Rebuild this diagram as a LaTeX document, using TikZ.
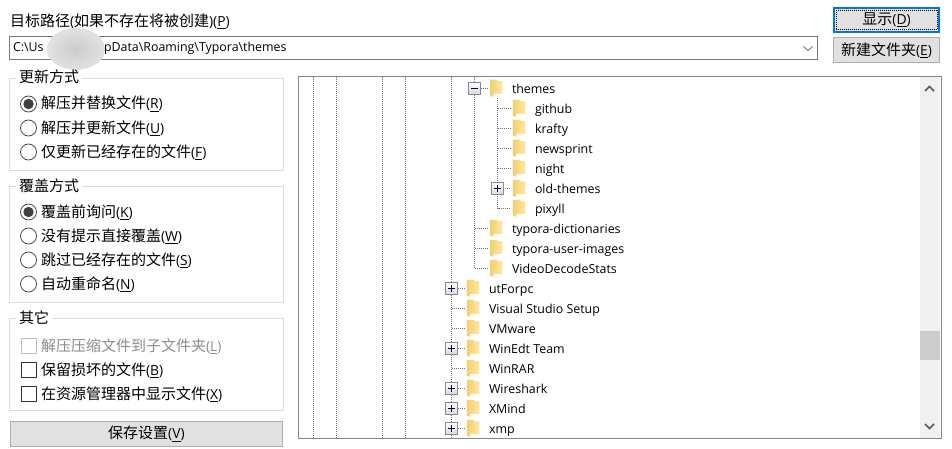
\documentclass[tikz,border=0pt]{standalone}
\usepackage{fontspec}
\setmainfont{Open Sans}
\newfontfamily\cjk{Noto Sans CJK SC}
\usetikzlibrary{calc}
\definecolor{grp}{HTML}{DCDCDC}
\definecolor{edge}{HTML}{7A7A7A}
\definecolor{treeedge}{HTML}{828790}
\definecolor{btn}{HTML}{E1E1E1}
\definecolor{btnb}{HTML}{ADADAD}
\definecolor{bar}{HTML}{F0F0F0}
\definecolor{thumb}{HTML}{CDCDCD}
\definecolor{focus}{HTML}{0078D7}
\definecolor{fa}{HTML}{F5CF6C}
\definecolor{fb}{HTML}{FDE8A6}
\definecolor{dis}{HTML}{8C8C8C}
\definecolor{blur}{HTML}{CCCCCC}
\definecolor{blurb}{HTML}{E2E2E2}
\newcommand{\sk}[1]{{\fontsize{10.4pt}{11pt}\selectfont(\underline{\smash{#1}})}}
\newcommand{\zh}[1]{{\cjk #1}}
\tikzset{
  x=0.75pt,y=-0.75pt,
  every node/.style={outer sep=0pt},
  ctext/.style={inner sep=0pt,anchor=base west,font=\fontsize{11.25pt}{13pt}\selectfont,text=black},
  treelab/.style={inner sep=0pt,anchor=base west,font=\fontsize{9.3pt}{11pt}\selectfont,text=black},
  groupbox/.style={draw=grp,line width=0.75pt,fill=white,inner sep=0pt,anchor=north west},
  radiobox/.style={circle,draw=black!70,line width=0.6pt,minimum size=12pt,inner sep=0pt},
  checkbox/.style={rectangle,draw=black!80,line width=0.6pt,minimum size=11.4pt,inner sep=0pt},
  pushbtn/.style={rectangle,draw=btnb,fill=btn,line width=0.75pt,inner sep=0pt,anchor=north west,font=\fontsize{11.25pt}{13pt}\selectfont},
  treedot/.style={draw=black!55,line width=0.6pt,dash pattern=on 0.75pt off 0.75pt},
  expander/.style={rectangle,draw=black!45,top color=white,bottom color=black!15,line width=0.8pt,minimum size=8.4pt,inner sep=0pt},
  glyph/.style={draw=blue!45!black,line width=0.8pt},
}
\newcommand{\folder}[2]{%
  \path[left color=fa,right color=fb,draw=fa,line width=0.25pt]
    (#1,#2-8) -- (#1+7,#2-8) -- (#1+7,#2-6.5) -- (#1+12,#2-6.5) -- (#1+12,#2+5.5) -- (#1+3,#2+5.5) -- (#1+3,#2+8.5) -- (#1,#2+7.5) -- cycle;}
\newcommand{\radio}[3]{\node[radiobox] (#1) at (28.5,#2) {};\ifnum#3=1 \fill[black!75] (#1) circle[radius=3.9pt];\fi}
\begin{document}
\begin{tikzpicture}
\useasboundingbox (0,0) rectangle (952,449);
\fill[white] (0,0) rectangle (952,449);
% path
\node[ctext] (pathlab) at (10,26.5) {\zh{目标路径}{\fontsize{10.4pt}{11pt}\selectfont(}\zh{如果不存在将被创建}{\fontsize{10.4pt}{11pt}\selectfont)}\sk{P}};
\node[draw=edge,line width=0.75pt,fill=white,minimum width=808pt*0.75,minimum height=23pt*0.75,inner sep=0pt,anchor=north west] (pathbox) at (9.5,36.5) {};
\node[treelab] (pathtext) at (13,52) {C:\textbackslash Us};
\node[treelab] (pathtextb) at (104,52) {pData\textbackslash Roaming\textbackslash Typora\textbackslash themes};
\shade[inner color=blur,outer color=blurb] (76,49) ellipse [x radius=29,y radius=21];
\draw[black!60,line width=0.6pt] (803.5,46.5) -- (808,50.5) -- (812.5,46.5);
% buttons
\node[pushbtn,draw=focus,line width=1.5pt,minimum width=104.5pt*0.75,minimum height=23.5pt*0.75] (showbtn) at (834.3,8.3) {\zh{显示}\sk{D}};
\draw[black,line width=0.5pt,dash pattern=on 0.75pt off 0.75pt] (836.5,10.5) rectangle (937.5,29.5);
\node[pushbtn,minimum width=106pt*0.75,minimum height=25pt*0.75] (newbtn) at (833.5,37.5) {\zh{新建文件夹}\sk{E}};
% group 1
\node[groupbox,minimum width=274pt*0.75,minimum height=92pt*0.75] (g1) at (9.5,78.5) {};
\node[ctext,fill=white,inner xsep=2.25pt] (g1lab) at (16,83) {\zh{更新方式}};
\radio{r1}{104}{1}\node[ctext] (r1t) at (41,109) {\zh{解压并替换文件}\sk{R}};
\radio{r2}{128}{0}\node[ctext] (r2t) at (41,133) {\zh{解压并更新文件}\sk{U}};
\radio{r3}{152}{0}\node[ctext] (r3t) at (41,157) {\zh{仅更新已经存在的文件}\sk{F}};
% group 2
\node[groupbox,minimum width=274pt*0.75,minimum height=116pt*0.75] (g2) at (9.5,186.5) {};
\node[ctext,fill=white,inner xsep=2.25pt] (g2lab) at (16,191) {\zh{覆盖方式}};
\radio{r4}{212}{1}\node[ctext] (r4t) at (41,217.5) {\zh{覆盖前询问}\sk{K}};
\radio{r5}{236}{0}\node[ctext] (r5t) at (41,241.5) {\zh{没有提示直接覆盖}\sk{W}};
\radio{r6}{260}{0}\node[ctext] (r6t) at (41,265.5) {\zh{跳过已经存在的文件}\sk{S}};
\radio{r7}{284}{0}\node[ctext] (r7t) at (41,289.5) {\zh{自动重命名}\sk{N}};
% group 3
\node[groupbox,minimum width=274pt*0.75,minimum height=92pt*0.75] (g3) at (9.5,318.5) {};
\node[ctext,fill=white,inner xsep=2.25pt] (g3lab) at (16,323) {\zh{其它}};
\node[checkbox,draw=black!25] (c1) at (29,345.5) {};\node[ctext,text=dis] (c1t) at (41,351) {\zh{解压压缩文件到子文件夹}\sk{L}};
\node[checkbox] (c2) at (29,369.5) {};\node[ctext] (c2t) at (41,375) {\zh{保留损坏的文件}\sk{B}};
\node[checkbox] (c3) at (29,393.5) {};\node[ctext] (c3t) at (41,399) {\zh{在资源管理器中显示文件}\sk{X}};
\node[pushbtn,minimum width=272.5pt*0.75,minimum height=24.5pt*0.75] (savebtn) at (10.2,421.7) {\zh{保存设置}\sk{V}};
% tree box
\node[draw=treeedge,line width=0.75pt,fill=white,minimum width=643pt*0.75,minimum height=362pt*0.75,inner sep=0pt,anchor=north west] (treebox) at (298.5,76.5) {};
\fill[bar] (920,77) rectangle (940,438);
\fill[thumb] (920,331) rectangle (939.5,360);
\draw[black!65,line width=1.2pt] (925,91) -- (929.5,86.5) -- (934,91);
\draw[black!65,line width=1.2pt] (925,424) -- (929.5,428.5) -- (934,424);
% vertical guide lines
\foreach \gx in {313.5,336.5,382.5,405.5,451.5} \draw[treedot] (\gx,77) -- (\gx,438);
\draw[treedot] (474.5,77) -- (474.5,268.5) -- (488,268.5);
\draw[treedot] (497.5,98) -- (497.5,208.5) -- (511,208.5);
\foreach \ty in {108.5,128.5,148.5,168.5} \draw[treedot] (497.5,\ty) -- (511,\ty);
\draw[treedot] (501,188.5) -- (511,188.5);
\draw[treedot] (479,88.5) -- (488,88.5);
\foreach \ty in {228.5,248.5} \draw[treedot] (474.5,\ty) -- (488,\ty);
\foreach \ty in {288.5,348.5,388.5,408.5,428.5} \draw[treedot] (456,\ty) -- (465,\ty);
\foreach \ty in {308.5,328.5,368.5} \draw[treedot] (451.5,\ty) -- (465,\ty);
% expanders
\node[expander] (ex1) at (474.5,88.5) {};\draw[glyph] (471,88.5) -- (478,88.5);
\foreach \nm/\ex/\ey in {ex2/497.5/188.5,ex3/451.5/288.5,ex4/451.5/348.5,ex5/451.5/388.5,ex6/451.5/408.5,ex7/451.5/428.5}{
  \node[expander] (\nm) at (\ex,\ey) {};
  \draw[glyph] (\ex-3.5,\ey) -- (\ex+3.5,\ey) (\ex,\ey-3.5) -- (\ex,\ey+3.5);
}
% folders and labels
\foreach \nm/\fx/\ty/\lab in {
 t1/490/88/themes,t2/513/108/github,t3/513/128/krafty,t4/513/148/newsprint,t5/513/168/night,t6/513/188/old-themes,t7/513/208/pixyll,
 t8/490/228/typora-dictionaries,t9/490/248/typora-user-images,t10/490/268/VideoDecodeStats,
 t11/467/288/utForpc,t12/467/308/Visual Studio Setup,t13/467/328/VMware,t14/467/348/WinEdt Team,t15/467/368/WinRAR,t16/467/388/Wireshark,t17/467/408/XMind,t18/467/428/xmp}{
  \folder{\fx}{\ty}
  \node[treelab] (\nm) at (\fx+22,\ty+5.3) {\lab};
}
\end{tikzpicture}
\end{document}
